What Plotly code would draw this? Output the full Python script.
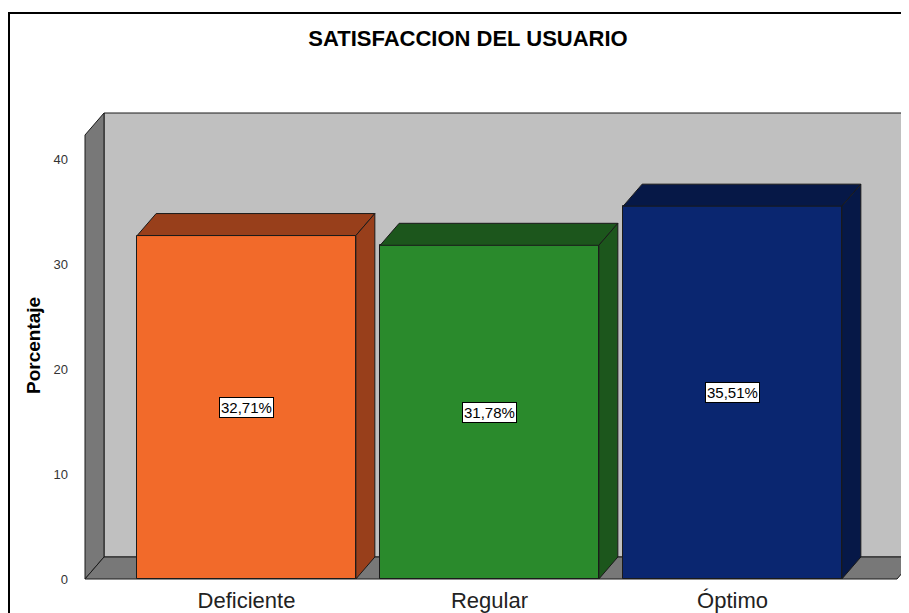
import plotly.graph_objects as go

# Datos
categorias = ["Deficiente", "Regular", "Óptimo"]
porcentajes = [32.71, 31.78, 35.51]
etiquetas = ["32,71%", "31,78%", "35,51%"]

colores_frente = ["#F26A2A", "#2A8A2C", "#0A2670"]
colores_lado = ["#983F1B", "#1C561C", "#061847"]

# Geometria (la pagina tiene 8 px de margen en el body)
OFF = 8
W, H = 909 - OFF, 613 - OFF
ml, mr, mt, mb = 83 - OFF, 0, 111 - OFF, 32
px_x = 243.0          # px por categoria
px_y = 10.5           # px por unidad de porcentaje
dx = 19 / px_x        # profundidad 3D
dy = 22 / px_y
ancho = 0.9

x0 = -0.6646 - 2 / px_x
x1 = x0 + (W - ml - mr) / px_x
y0 = -2 / px_y
y1 = y0 + (H - mt - mb) / px_y

xl, xr = -0.6646, 2.677     # plano frontal
ytop = y1 - 2 / px_y - dy   # borde superior del plano frontal

linea = dict(color="#1a1a1a", width=1)


def camino(xs, ys):
    return "M " + " L ".join(f"{a},{b}" for a, b in zip(xs, ys)) + " Z"


def poly(xs, ys, color):
    return go.Scatter(x=xs + [xs[0]], y=ys + [ys[0]], mode="lines", fill="toself",
                      fillcolor=color, line=linea, hoverinfo="skip", showlegend=False)


fig = go.Figure()

# Paredes y suelo (debajo de las barras)
for xs, ys, c in [
    ([xl + dx, xr + dx, xr + dx, xl + dx], [dy, dy, ytop + dy, ytop + dy], "#C0C0C0"),
    ([xl, xl + dx, xl + dx, xl], [0, dy, ytop + dy, ytop], "#787878"),
    ([xl, xl + dx, xr + dx, xr], [0, dy, dy, 0], "#787878"),
]:
    fig.add_shape(type="path", xref="x", yref="y", path=camino(xs, ys),
                  fillcolor=c, line=linea, layer="below")

# Cara frontal
fig.add_trace(go.Bar(x=list(range(len(categorias))), y=porcentajes, width=ancho,
                     marker=dict(color=colores_frente, line=linea),
                     hoverinfo="skip", showlegend=False))

# Barras 3D: tapa y lateral
for i, v in enumerate(porcentajes):
    a, b = i - ancho / 2, i + ancho / 2
    fig.add_trace(poly([a, a + dx, b + dx, b], [v, v + dy, v + dy, v], colores_lado[i]))
    fig.add_trace(poly([b, b + dx, b + dx, b], [0, dy, v + dy, v], colores_lado[i]))

# Etiquetas de valor
for i, v in enumerate(porcentajes):
    fig.add_annotation(x=i, y=v / 2, text=etiquetas[i], showarrow=False,
                       xanchor="center", yanchor="middle",
                       bgcolor="white", bordercolor="black", borderwidth=1, borderpad=1,
                       font=dict(family="Arial", size=15, color="black"))

pw, ph = W - ml - mr, H - mt - mb

# Titulo eje Y
fig.add_annotation(xref="paper", yref="paper", x=(33 - OFF - ml) / pw,
                   y=(H - mb - (346 - OFF)) / ph, text="<b>Porcentaje</b>",
                   xanchor="center", yanchor="middle",
                   textangle=-90, showarrow=False,
                   font=dict(family="Arial", size=19, color="black"))

# Marco
fig.add_shape(type="rect", xref="paper", yref="paper",
              x0=(1 - ml) / pw, x1=(W + 5 - ml) / pw,
              y0=(H - mb - (H + 5)) / ph, y1=(H - mb - (13 - OFF)) / ph,
              line=dict(color="black", width=2), fillcolor="rgba(0,0,0,0)", layer="above")

fig.update_layout(
    width=W, height=H,
    margin=dict(l=ml, r=mr, t=mt, b=mb),
    paper_bgcolor="white", plot_bgcolor="white",
    title=dict(text="<b>SATISFACCION DEL USUARIO</b>", x=(468 - OFF) / W, xanchor="center",
               y=1 - (38 - OFF) / H, yanchor="middle", yref="container",
               font=dict(family="Arial", size=22, color="black")),
    xaxis=dict(range=[x0, x1], tickvals=list(range(len(categorias))), ticktext=categorias,
               showgrid=False, zeroline=False, showline=False, ticks="",
               ticklabelstandoff=4,
               tickfont=dict(family="Arial", size=22, color="#222"), automargin=False),
    yaxis=dict(range=[y0, y1], tickvals=[0, 10, 20, 30, 40], showgrid=False,
               zeroline=False, showline=False, ticks="", ticklabelstandoff=14,
               tickfont=dict(family="Arial", size=13, color="#333"), automargin=False),
    bargap=0,
)

fig.write_html("out.html")
